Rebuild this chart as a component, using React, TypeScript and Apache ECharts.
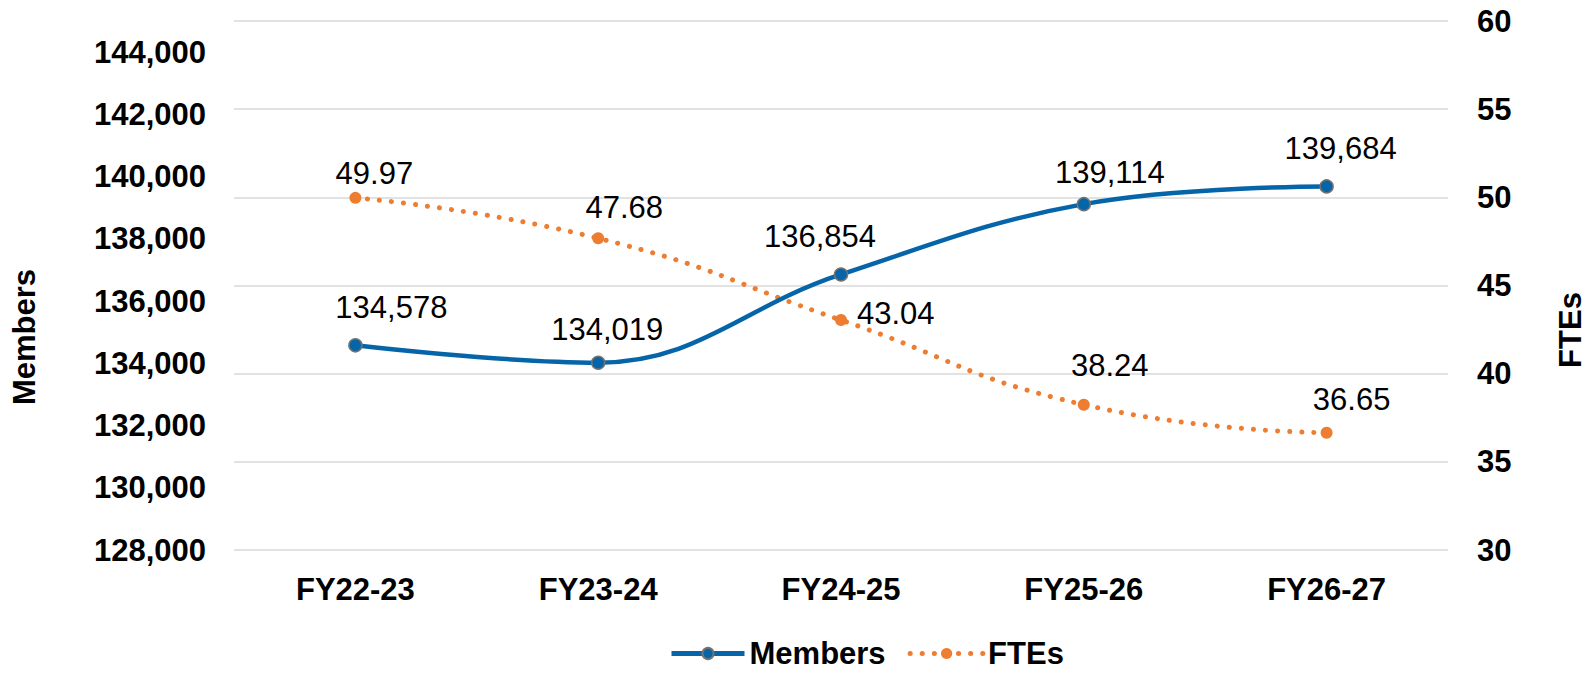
import React, { useEffect, useRef } from "react";
import * as echarts from "echarts";

const categories = ["FY22-23", "FY23-24", "FY24-25", "FY25-26", "FY26-27"];
const members = [134578, 134019, 136854, 139114, 139684];
const ftes = [49.97, 47.68, 43.04, 38.24, 36.65];

// label nudges (layout only)
const memberLabelOffsets = [[36, -5], [9, 0], [-21, -5], [26, 1], [14, -5]];
const fteLabelOffsets = [[19, 7], [26, 1], [0, -7], [26, -8], [25, -2]];
const fteLabelPositions = ["top", "top", "right", "top", "top"];

const FONT = "'Liberation Sans', Arial, sans-serif";
const BLUE = "#0565a8";
const ORANGE = "#ed7d31";

export default function App() {
  const ref = useRef<HTMLDivElement>(null);
  useEffect(() => {
    document.body.style.margin = "0";
    const chart = echarts.init(ref.current!, null, { renderer: "svg" });
    const fmt = (v: number) => v.toLocaleString("en-US");
    chart.setOption({
      animation: false,
      textStyle: { fontFamily: FONT },
      grid: { left: 234, right: 144, top: 21, bottom: 123, containLabel: false },
      legend: {
        left: 664,
        top: 633,
        itemWidth: 73,
        itemHeight: 14,
        itemGap: 22,
        textStyle: { fontFamily: FONT, fontSize: 31, fontWeight: "bold", color: "#000" },
        data: [
          { name: "Members", lineStyle: { width: 5 } },
          { name: "FTEs", lineStyle: { width: 5 } },
        ],
      },
      xAxis: {
        type: "category",
        data: categories,
        boundaryGap: true,
        axisLine: { show: false },
        axisTick: { show: false },
        axisLabel: { fontFamily: FONT, fontSize: 31, fontWeight: "bold", color: "#000", margin: 24 },
      },
      yAxis: [
        {
          type: "value",
          min: 128000,
          max: 145000,
          interval: 2000,
          splitLine: { show: false },
          axisLine: { show: false },
          axisTick: { show: false },
          axisLabel: {
            fontFamily: FONT,
            fontSize: 31,
            fontWeight: "bold",
            color: "#000",
            margin: 28,
            formatter: (v: number) => ((v - 128000) % 2000 === 0 ? fmt(v) : ""),
          },
        },
        {
          type: "value",
          min: 30,
          max: 60,
          interval: 5,
          position: "right",
          splitLine: { show: true, lineStyle: { color: "#d9d9d9", width: 1.5 } },
          axisLine: { show: false },
          axisTick: { show: false },
          axisLabel: { fontFamily: FONT, fontSize: 31, fontWeight: "bold", color: "#000", margin: 29 },
        },
      ],
      graphic: [
        {
          type: "text",
          x: 24,
          y: 337,
          rotation: Math.PI / 2,
          style: {
            text: "Members",
            font: `bold 31px ${FONT}`,
            fill: "#000",
            align: "center",
            verticalAlign: "middle",
          },
        },
        {
          type: "text",
          x: 1570,
          y: 330,
          rotation: Math.PI / 2,
          style: {
            text: "FTEs",
            font: `bold 31px ${FONT}`,
            fill: "#000",
            align: "center",
            verticalAlign: "middle",
          },
        },
      ],
      series: [
        {
          name: "Members",
          type: "line",
          yAxisIndex: 0,
          smooth: 0.4,
          symbol: "circle",
          symbolSize: 13,
          color: BLUE,
          lineStyle: { color: BLUE, width: 4.5 },
          itemStyle: { color: BLUE, borderColor: "#737373", borderWidth: 1.5 },
          z: 3,
          data: members.map((v, i) => ({
            value: v,
            label: { offset: memberLabelOffsets[i] },
          })),
          label: {
            show: true,
            position: "top",
            distance: 10,
            fontFamily: FONT,
            fontSize: 31,
            color: "#000",
            formatter: (p: any) => fmt(p.value),
          },
        },
        {
          name: "FTEs",
          type: "line",
          yAxisIndex: 1,
          smooth: 0.5,
          symbol: "circle",
          symbolSize: 12,
          color: ORANGE,
          lineStyle: { color: ORANGE, width: 5, type: [0.1, 12], cap: "round" },
          itemStyle: { color: ORANGE },
          z: 2,
          data: ftes.map((v, i) => ({
            value: v,
            label: { position: fteLabelPositions[i], offset: fteLabelOffsets[i] },
          })),
          label: {
            show: true,
            position: "top",
            distance: 10,
            fontFamily: FONT,
            fontSize: 31,
            color: "#000",
            formatter: (p: any) => p.value.toFixed(2),
          },
        },
      ],
    });
    return () => chart.dispose();
  }, []);
  return <div ref={ref} style={{ width: 1592, height: 673, position: "absolute", left: 0, top: 0 }} />;
}
